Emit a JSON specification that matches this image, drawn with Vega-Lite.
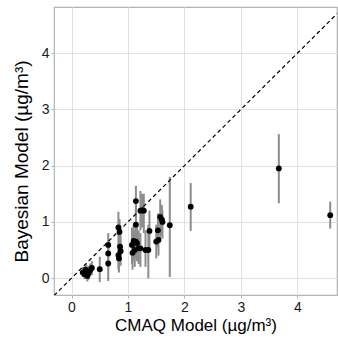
{
  "$schema": "https://vega.github.io/schema/vega-lite/v6.json",
  "width": 283,
  "height": 288,
  "autosize": {"type": "none"},
  "padding": {"left": 54, "top": 7, "right": 1, "bottom": 44},
  "background": "white",
  "config": {
    "view": {"stroke": "#B3B3B3", "strokeWidth": 1.2},
    "font": "Liberation Sans",
    "axis": {
      "domain": false,
      "gridColor": "#E0E0E0",
      "tickColor": "#B3B3B3",
      "tickSize": 3,
      "labelFontSize": 14,
      "labelColor": "#1a1a1a",
      "titleFontSize": 17,
      "titleFontWeight": "normal",
      "titleColor": "#000000",
      "labelPadding": 2
    }
  },
  "datasets": {
    "pts": [
      {"cmaq": 0.20, "bayes": 0.10, "lo": 0.02, "hi": 0.20},
      {"cmaq": 0.23, "bayes": 0.07, "lo": -0.02, "hi": 0.16},
      {"cmaq": 0.26, "bayes": 0.12, "lo": 0.02, "hi": 0.24},
      {"cmaq": 0.28, "bayes": 0.04, "lo": -0.06, "hi": 0.14},
      {"cmaq": 0.30, "bayes": 0.09, "lo": -0.03, "hi": 0.22},
      {"cmaq": 0.33, "bayes": 0.14, "lo": 0.03, "hi": 0.26},
      {"cmaq": 0.36, "bayes": 0.18, "lo": 0.05, "hi": 0.30},
      {"cmaq": 0.25, "bayes": 0.15, "lo": 0.05, "hi": 0.25},
      {"cmaq": 0.50, "bayes": 0.16, "lo": -0.07, "hi": 0.38},
      {"cmaq": 0.65, "bayes": 0.26, "lo": -0.05, "hi": 0.55},
      {"cmaq": 0.65, "bayes": 0.44, "lo": 0.20, "hi": 0.65},
      {"cmaq": 0.65, "bayes": 0.59, "lo": 0.35, "hi": 0.80},
      {"cmaq": 0.83, "bayes": 0.90, "lo": 0.55, "hi": 1.18},
      {"cmaq": 0.85, "bayes": 0.82, "lo": 0.50, "hi": 1.05},
      {"cmaq": 0.86, "bayes": 0.56, "lo": 0.30, "hi": 0.85},
      {"cmaq": 0.87, "bayes": 0.48, "lo": 0.22, "hi": 0.75},
      {"cmaq": 0.83, "bayes": 0.41, "lo": 0.15, "hi": 0.60},
      {"cmaq": 0.84, "bayes": 0.35, "lo": 0.10, "hi": 0.60},
      {"cmaq": 1.14, "bayes": 1.37, "lo": 1.09, "hi": 1.64},
      {"cmaq": 1.14, "bayes": 0.95, "lo": 0.60, "hi": 1.30},
      {"cmaq": 1.22, "bayes": 1.20, "lo": 0.85, "hi": 1.55},
      {"cmaq": 1.25, "bayes": 1.21, "lo": 0.90, "hi": 1.50},
      {"cmaq": 1.28, "bayes": 1.20, "lo": 0.80, "hi": 1.50},
      {"cmaq": 1.07, "bayes": 0.59, "lo": 0.25, "hi": 0.90},
      {"cmaq": 1.10, "bayes": 0.66, "lo": 0.30, "hi": 0.95},
      {"cmaq": 1.14, "bayes": 0.65, "lo": 0.35, "hi": 1.00},
      {"cmaq": 1.16, "bayes": 0.62, "lo": 0.30, "hi": 0.90},
      {"cmaq": 1.08, "bayes": 0.45, "lo": 0.15, "hi": 0.80},
      {"cmaq": 1.12, "bayes": 0.50, "lo": 0.20, "hi": 0.85},
      {"cmaq": 1.19, "bayes": 0.53, "lo": 0.25, "hi": 0.85},
      {"cmaq": 1.22, "bayes": 0.53, "lo": 0.20, "hi": 0.80},
      {"cmaq": 1.31, "bayes": 0.50, "lo": 0.20, "hi": 0.85},
      {"cmaq": 1.36, "bayes": 0.50, "lo": 0.00, "hi": 0.95},
      {"cmaq": 1.38, "bayes": 0.84, "lo": 0.50, "hi": 1.20},
      {"cmaq": 1.50, "bayes": 0.65, "lo": 0.35, "hi": 0.95},
      {"cmaq": 1.54, "bayes": 0.68, "lo": 0.40, "hi": 1.00},
      {"cmaq": 1.53, "bayes": 0.85, "lo": 0.55, "hi": 1.15},
      {"cmaq": 1.57, "bayes": 1.09, "lo": 0.70, "hi": 1.40},
      {"cmaq": 1.60, "bayes": 1.04, "lo": 0.75, "hi": 1.30},
      {"cmaq": 1.61, "bayes": 1.00, "lo": 0.70, "hi": 1.20},
      {"cmaq": 1.74, "bayes": 0.94, "lo": 0.02, "hi": 1.80},
      {"cmaq": 2.11, "bayes": 1.27, "lo": 0.84, "hi": 1.69},
      {"cmaq": 3.67, "bayes": 1.95, "lo": 1.33, "hi": 2.56},
      {"cmaq": 4.58, "bayes": 1.12, "lo": 0.88, "hi": 1.36}
    ],
    "diag": [
      {"cmaq": -0.31, "bayes": -0.31},
      {"cmaq": 4.85, "bayes": 4.85}
    ]
  },
  "layer": [
    {
      "data": {"name": "pts"},
      "mark": {"type": "rule", "color": "#8c8c8c", "strokeWidth": 2},
      "encoding": {
        "x": {
          "field": "cmaq", "type": "quantitative",
          "scale": {"domain": [-0.31, 4.7], "nice": false, "zero": false},
          "axis": {
            "title": "CMAQ Model (µg/m³)",
            "values": [0, 0.5, 1, 1.5, 2, 2.5, 3, 3.5, 4, 4.5],
            "labelExpr": "datum.value % 1 === 0 ? format(datum.value, 'd') : ''",
            "tickOpacity": {"condition": {"test": "datum.value % 1 !== 0", "value": 0}, "value": 1},
            "gridWidth": {"condition": {"test": "datum.value % 1 !== 0", "value": 0.5}, "value": 1},
            "titlePadding": 3
          }
        },
        "y": {
          "field": "lo", "type": "quantitative",
          "scale": {"domain": [-0.3, 4.82], "nice": false, "zero": false},
          "axis": {
            "title": "Bayesian Model (µg/m³)",
            "titleFontSize": 19,
            "titleY": 154,
            "values": [0, 0.5, 1, 1.5, 2, 2.5, 3, 3.5, 4, 4.5],
            "labelExpr": "datum.value % 1 === 0 ? format(datum.value, 'd') : ''",
            "tickOpacity": {"condition": {"test": "datum.value % 1 !== 0", "value": 0}, "value": 1},
            "gridWidth": {"condition": {"test": "datum.value % 1 !== 0", "value": 0.5}, "value": 1},
            "titlePadding": 10
          }
        },
        "y2": {"field": "hi"}
      }
    },
    {
      "data": {"name": "diag"},
      "mark": {"type": "line", "color": "black", "strokeDash": [4, 3], "strokeWidth": 1.2, "clip": true},
      "encoding": {
        "x": {"field": "cmaq", "type": "quantitative"},
        "y": {"field": "bayes", "type": "quantitative"}
      }
    },
    {
      "mark": {"type": "rule", "color": "black", "strokeDash": [4, 3], "strokeWidth": 1.2},
      "encoding": {"y": {"datum": 0}}
    },
    {
      "data": {"name": "pts"},
      "mark": {"type": "circle", "color": "black", "opacity": 1, "size": 34},
      "encoding": {
        "x": {"field": "cmaq", "type": "quantitative"},
        "y": {"field": "bayes", "type": "quantitative"}
      }
    }
  ]
}
